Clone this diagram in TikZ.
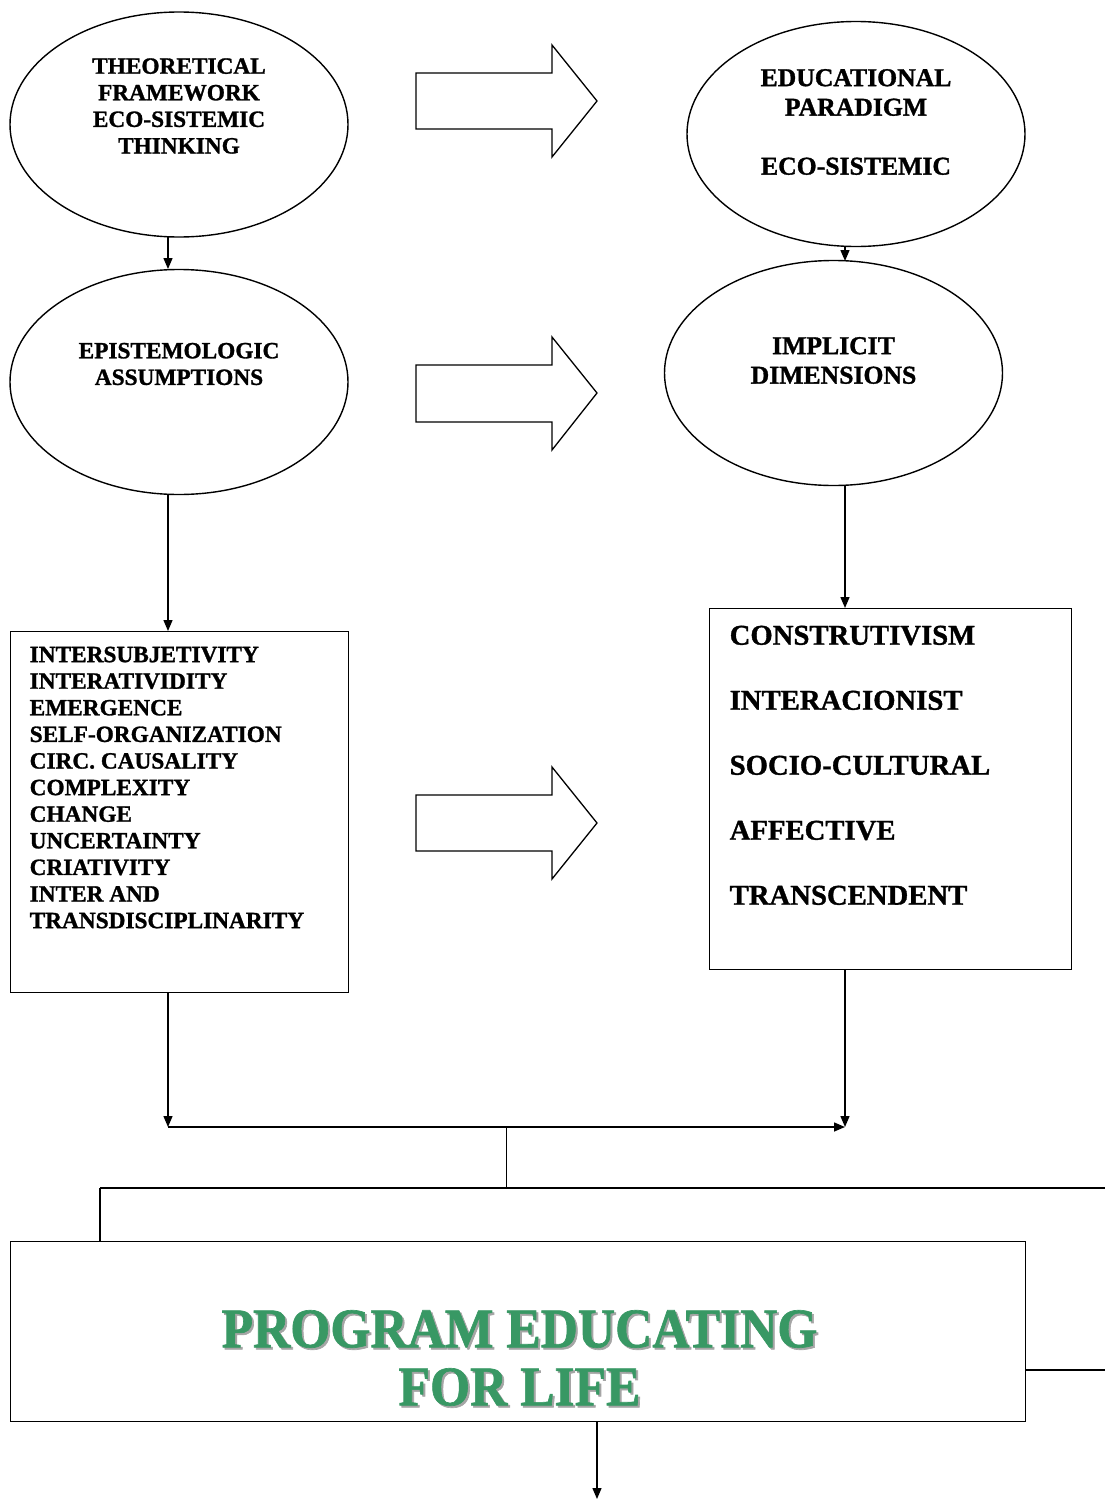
\documentclass[tikz,border=0pt]{standalone}
\usepackage{fontspec}
\setmainfont{Liberation Serif}
\newfontfamily\heavyfont{Liberation Serif Bold}[FakeBold=1.2]
\usepackage{graphicx}
\usetikzlibrary{shapes.geometric,arrows.meta}
\definecolor{titlegreen}{RGB}{56,152,100}
\definecolor{shadowgray}{RGB}{165,165,165}
\begin{document}
\begin{tikzpicture}[x=1pt,y=-1pt,
  line width=1.4pt,
  oval/.style={draw,ellipse,minimum width=338pt,minimum height=225pt,inner sep=0pt},
  rbox/.style={draw,rectangle,inner sep=0pt,anchor=north west},
  smalltxt/.style={font=\heavyfont\fontsize{23.3}{26.6}\selectfont,align=center,inner sep=0pt},
  midtxt/.style={font=\heavyfont\fontsize{25.7}{29.5}\selectfont,align=center,inner sep=0pt},
  listtxt/.style={font=\heavyfont\fontsize{23.3}{26.6}\selectfont,align=left,inner sep=0pt,anchor=north west},
  bigtxt/.style={font=\heavyfont\fontsize{28.7}{65}\selectfont,align=left,inner sep=0pt,anchor=north west},
  titletxt/.style={font=\heavyfont\fontsize{56}{58}\selectfont,align=center,inner sep=0pt},
  arr/.style={-{Triangle[length=11pt,width=9pt]}},
  blockarrow/.style={draw,line width=1.3pt}]
\useasboundingbox (0,0) rectangle (1105,1499);

% ellipses
\node[oval] (e1) at (179,124.5) {};
\node[oval] (e2) at (856,134) {};
\node[oval] (e3) at (179,382) {};
\node[oval] (e4) at (833.5,373) {};

\node[smalltxt] (t1) at (179,106) {THEORETICAL\\FRAMEWORK\\ECO-SISTEMIC\\THINKING};
\node[midtxt] (t2) at (856,122) {EDUCATIONAL\\PARADIGM\\\mbox{}\\ECO-SISTEMIC};
\node[smalltxt] (t3) at (179,364) {EPISTEMOLOGIC\\ASSUMPTIONS};
\node[midtxt] (t4) at (833.5,360.5) {IMPLICIT\\DIMENSIONS};

% boxes
\node[rbox,minimum width=338pt,minimum height=361pt] (b1) at (10,631) {};
\node[rbox,minimum width=362pt,minimum height=361pt] (b2) at (709,608) {};
\node[listtxt] (l1) at (29,646) {INTERSUBJETIVITY\\INTERATIVIDITY\\EMERGENCE\\SELF-ORGANIZATION\\CIRC. CAUSALITY\\COMPLEXITY\\CHANGE\\UNCERTAINTY\\CRIATIVITY\\INTER AND\\TRANSDISCIPLINARITY};
\node[bigtxt] (l2) at (729,625) {CONSTRUTIVISM\\INTERACIONIST\\SOCIO-CULTURAL\\AFFECTIVE\\TRANSCENDENT};

\node[rbox,minimum width=1015pt,minimum height=180pt] (m) at (10,1241) {};
\node[titletxt,text=shadowgray] (ts) at (521.5,1360) {\scalebox{0.92}[1]{PROGRAM EDUCATING}\\\scalebox{0.92}[1]{FOR LIFE}};
\node[titletxt,text=titlegreen] (tt) at (519.5,1358) {\scalebox{0.92}[1]{PROGRAM EDUCATING}\\\scalebox{0.92}[1]{FOR LIFE}};

% block arrows
\draw[blockarrow] (416,73) -- (552,73) -- (552,45) -- (597,101) -- (552,157) -- (552,129) -- (416,129) -- cycle;
\draw[blockarrow] (416,365) -- (552,365) -- (552,337) -- (597,393) -- (552,450) -- (552,422) -- (416,422) -- cycle;
\draw[blockarrow] (416,795) -- (552,795) -- (552,767) -- (597,823) -- (552,879) -- (552,851) -- (416,851) -- cycle;

% connectors
\coordinate (c1) at (168,237);
\coordinate (c2) at (168,269);
\draw[arr] (c1) -- (c2);
\coordinate (c3) at (845,247);
\coordinate (c4) at (845,261);
\draw[arr] (c3) -- (c4);
\coordinate (c5) at (168,495);
\draw[arr] (c5) -- (b1.north -| c5);
\coordinate (c6) at (845,486);
\draw[arr] (c6) -- (b2.north -| c6);

\coordinate (j1) at (168,1127);
\coordinate (j2) at (845,1127);
\draw[arr] (b1.south -| j1) -- (j1);
\draw[arr] (b2.south -| j2) -- (j2);
\draw[arr] (j1) -- (j2);
\coordinate (j3) at (506,1127);
\coordinate (j4) at (506,1188);
\draw[line width=1pt] (j3) -- (j4);
\coordinate (j5) at (100,1188);
\coordinate (j6) at (1105,1188);
\draw (j5) -- (j6);
\draw (j5) -- (m.north -| j5);
\coordinate (j7) at (1105,1370);
\draw (m.east |- j7) -- (j7);
\coordinate (j8) at (597,1499);
\draw[arr] (m.south -| j8) -- (j8);
\end{tikzpicture}
\end{document}
